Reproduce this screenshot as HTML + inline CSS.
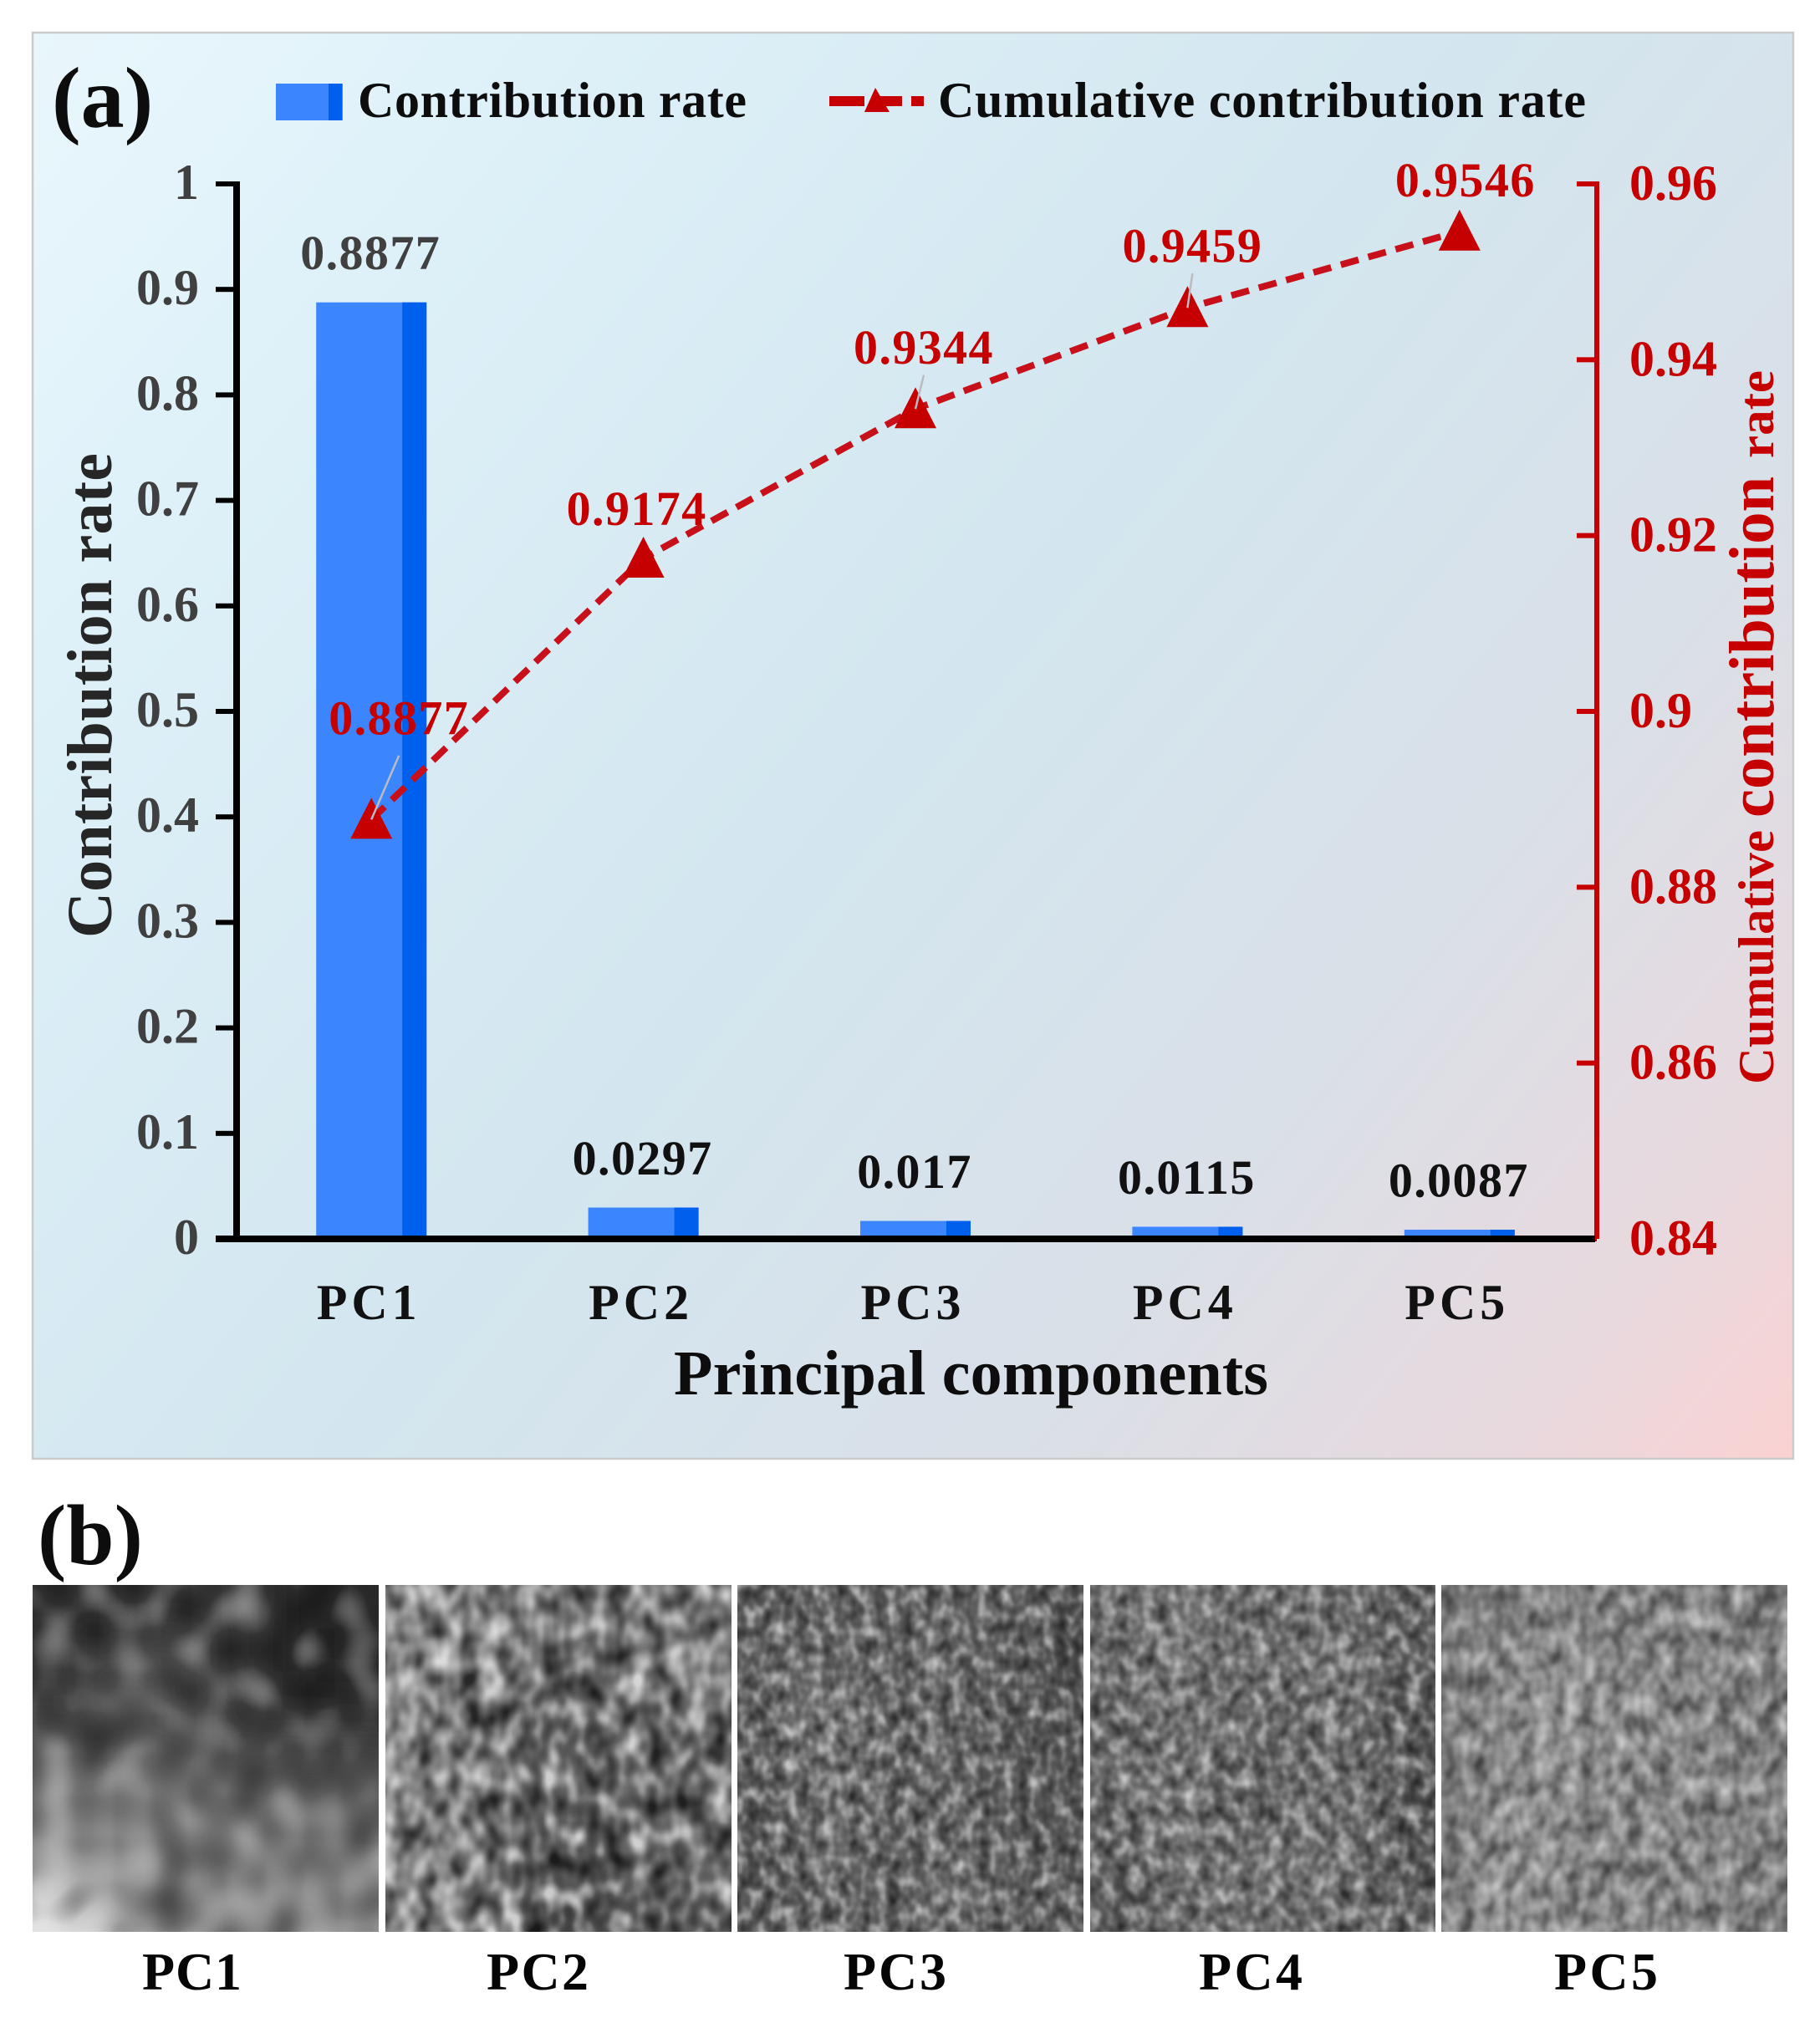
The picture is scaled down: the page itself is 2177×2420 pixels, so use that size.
<!DOCTYPE html>
<html lang="en">
<head>
<meta charset="utf-8">
<title>Principal component contribution rates</title>
<style>
html,body{margin:0;padding:0;background:#fff;}
svg{display:block;}
text{font-family:"Liberation Serif",serif;font-weight:bold;}
</style>
</head>
<body>
<svg id="fig" xmlns="http://www.w3.org/2000/svg" width="2177" height="2420" viewBox="0 0 2177 2420">
  <defs>
    <linearGradient id="panelGrad" gradientUnits="userSpaceOnUse" x1="39" y1="39" x2="2145" y2="1745">
      <stop offset="0" stop-color="#e9f7fc"/>
      <stop offset="0.2" stop-color="#ddf0f8"/>
      <stop offset="0.5" stop-color="#d3e6ef"/>
      <stop offset="0.72" stop-color="#d9e0e8"/>
      <stop offset="0.9" stop-color="#e8d9de"/>
      <stop offset="1" stop-color="#fbd2d2"/>
    </linearGradient>
    <filter id="tileBlur" x="-10%" y="-10%" width="120%" height="120%"><feGaussianBlur stdDeviation="22"/></filter>
    <filter id="noise1" x="0" y="0" width="100%" height="100%" color-interpolation-filters="sRGB">
      <feTurbulence type="fractalNoise" baseFrequency="0.022 0.02" numOctaves="1" seed="4"/>
      <feColorMatrix values="1.3 0 0 0 -0.15  1.3 0 0 0 -0.15  1.3 0 0 0 -0.15  0 0 0 0 1"/>
    </filter>
    <filter id="noise2" x="0" y="0" width="100%" height="100%" color-interpolation-filters="sRGB">
      <feTurbulence type="fractalNoise" baseFrequency="0.04 0.028" numOctaves="2" seed="11"/>
      <feColorMatrix values="1.6 0 0 0 -0.3  1.6 0 0 0 -0.3  1.6 0 0 0 -0.3  0 0 0 0 1"/>
    </filter>
    <filter id="noise3" x="0" y="0" width="100%" height="100%" color-interpolation-filters="sRGB">
      <feTurbulence type="fractalNoise" baseFrequency="0.065 0.05" numOctaves="2" seed="23"/>
      <feColorMatrix values="1.3 0 0 0 -0.15  1.3 0 0 0 -0.15  1.3 0 0 0 -0.15  0 0 0 0 1"/>
    </filter>
    <filter id="noise4" x="0" y="0" width="100%" height="100%" color-interpolation-filters="sRGB">
      <feTurbulence type="fractalNoise" baseFrequency="0.06 0.05" numOctaves="2" seed="37"/>
      <feColorMatrix values="1.3 0 0 0 -0.15  1.3 0 0 0 -0.15  1.3 0 0 0 -0.15  0 0 0 0 1"/>
    </filter>
    <filter id="noise5" x="0" y="0" width="100%" height="100%" color-interpolation-filters="sRGB">
      <feTurbulence type="fractalNoise" baseFrequency="0.055 0.04" numOctaves="2" seed="52"/>
      <feColorMatrix values="1.25 0 0 0 -0.125  1.25 0 0 0 -0.125  1.25 0 0 0 -0.125  0 0 0 0 1"/>
    </filter>
  </defs>

  <rect x="39" y="39" width="2106" height="1706" fill="url(#panelGrad)" stroke="#c9cacb" stroke-width="2.5"/>

  <text x="62" y="152" font-size="104" fill="#0d0d0d">(a)</text>

  <g>
    <g>
      <rect x="330" y="100" width="80" height="44" fill="#3b86ff"/>
      <rect x="393" y="100" width="16" height="44" fill="#0060ee"/>
    </g>
    <text x="428" y="140" font-size="60" fill="#0d0d0d" textLength="465" lengthAdjust="spacing">Contribution rate</text>
    <g fill="#c60000">
      <rect x="992" y="115" width="42" height="12"/>
      <rect x="1050" y="115" width="29" height="12"/>
      <rect x="1090" y="115" width="15" height="12"/>
      <polygon points="1047,105 1064,134 1034,134"/>
    </g>
    <text x="1122" y="140" font-size="60" fill="#0d0d0d" textLength="775" lengthAdjust="spacing">Cumulative contribution rate</text>
  </g>

  <g id="plot"></g>

  <text x="806" y="1668" font-size="76" fill="#0d0d0d" textLength="711" lengthAdjust="spacing">Principal components</text>
  <text transform="translate(133,1122) rotate(-90)" font-size="76" fill="#262626" textLength="580" lengthAdjust="spacing">Contribution rate</text>
  <g fill="#c60000">
    <text transform="translate(2121,1297) rotate(-90)" font-size="60" textLength="304" lengthAdjust="spacingAndGlyphs">Cumulative</text>
    <text transform="translate(2121,978) rotate(-90)" font-size="76" textLength="408" lengthAdjust="spacingAndGlyphs">contribution</text>
    <text transform="translate(2121,548) rotate(-90)" font-size="60" textLength="105" lengthAdjust="spacingAndGlyphs">rate</text>
  </g>

  <text x="45" y="1871" font-size="103" fill="#0d0d0d">(b)</text>
  <g id="tiles"></g>
</svg>

<script>
// ---- chart data ----
const categories = ["PC1", "PC2", "PC3", "PC4", "PC5"];
const contributionRates = [0.8877, 0.0297, 0.017, 0.0115, 0.0087];
const cumulativeRates = [0.8877, 0.9174, 0.9344, 0.9459, 0.9546];
const leftTicks = [0, 0.1, 0.2, 0.3, 0.4, 0.5, 0.6, 0.7, 0.8, 0.9, 1];
const rightTicks = [0.84, 0.86, 0.88, 0.9, 0.92, 0.94, 0.96];

// ---- approximate brightness of the PC image tiles (0-255, coarse rows) ----
const tileBrightnessPC1 = [
  [46,42,52,50,56,48,36,44],
  [54,58,70,68,52,50,34,40],
  [58,70,90,78,60,50,42,46],
  [76,72,84,76,66,60,56,54],
  [110,108,122,100,92,94,82,84],
  [124,118,128,108,112,104,108,104],
  [156,146,156,130,124,122,128,128],
  [225,190,130,118,128,134,136,142]
];
const tileBrightnessPC2 = [
  [128,132,118,112,108,116,122,112],
  [138,134,128,112,106,118,128,124],
  [130,136,124,104,96,106,116,114],
  [124,124,112,94,90,104,106,100],
  [128,126,112,98,94,106,104,98],
  [130,132,116,92,86,98,104,102],
  [136,138,118,90,84,96,106,106],
  [134,128,104,78,72,84,94,96]
];
const tileBrightnessPC3 = [
  [92,98,100,96,104,100,96,84],
  [100,106,108,98,112,106,94,80],
  [98,108,114,98,104,100,92,84],
  [100,116,124,100,106,104,88,88],
  [94,108,116,96,106,104,90,90],
  [92,104,114,94,106,102,92,92],
  [90,104,110,92,112,108,96,92],
  [92,100,108,92,112,108,100,96]
];
const tileBrightnessPC4 = [
  [108,116,118,112,108,116,108,92],
  [104,120,122,110,112,120,108,96],
  [102,112,116,106,112,124,112,96],
  [106,114,116,108,104,118,104,88],
  [108,118,114,102,100,116,102,84],
  [102,116,118,106,110,126,100,84],
  [98,110,114,110,114,118,104,94],
  [94,106,112,110,112,114,108,96]
];
const tileBrightnessPC5 = [
  [120,122,128,130,128,132,130,118],
  [128,132,142,138,134,132,136,130],
  [122,132,144,140,136,134,132,126],
  [124,138,150,142,140,142,128,124],
  [122,140,146,130,128,136,134,132],
  [128,142,144,134,136,136,130,130],
  [124,146,140,122,130,134,128,124],
  [132,152,142,136,136,136,132,130]
];
const tileTitles = ["PC1", "PC2", "PC3", "PC4", "PC5"];

// ---- axis functions ----
const plotLeft = 283, plotRight = 1910, plotTop = 220, plotBottom = 1482;
const bandWidth = (plotRight - plotLeft) / categories.length;
const xCenter = i => plotLeft + bandWidth * (i + 0.5) - 1.5;
const yLeft = v => plotBottom - (v / 1) * (plotBottom - plotTop);
const yRight = v => plotBottom - ((v - 0.84) / (0.96 - 0.84)) * (plotBottom - plotTop);

const NS = "http://www.w3.org/2000/svg";
function mk(tag, attrs, parent, txt) {
  const n = document.createElementNS(NS, tag);
  for (const k in attrs) n.setAttribute(k, attrs[k]);
  if (txt !== undefined) n.textContent = txt;
  parent.appendChild(n);
  return n;
}
const plot = document.getElementById("plot");
const RED = "#c60000";

// bars
categories.forEach((c, i) => {
  const top = yLeft(contributionRates[i]);
  const g = mk("g", {}, plot);
  
  
  mk("rect", {x: xCenter(i) - 66, y: top, width: 132, height: plotBottom - top, fill: "#3b86ff"}, g);
  mk("rect", {x: xCenter(i) + 37, y: top, width: 29, height: plotBottom - top, fill: "#0060ee"}, g);
  const lab = mk("text", {x: xCenter(i) - 1, y: top - 39.5, "text-anchor": "middle", "font-size": 58, "letter-spacing": 1.4, fill: i === 0 ? "#404040" : "#111111"}, plot, String(contributionRates[i]));
  
  
  const cat = mk("text", {x: xCenter(i) - 3, y: 1578, "text-anchor": "middle", "font-size": 60, fill: "#111111", "letter-spacing": 5}, plot, c);
  
  
});

// left axis
const leftAxis = mk("rect", {x: plotLeft - 4, y: plotTop - 3, width: 8, height: plotBottom - plotTop + 3, fill: "#000"}, plot);


leftTicks.forEach(v => {
  const t = mk("rect", {x: 258, y: yLeft(v) - 3, width: 25, height: 6, fill: "#000"}, plot);
  
  
  const l = mk("text", {x: 238, y: yLeft(v) + 18, "text-anchor": "end", "font-size": 60, fill: "#404040"}, plot, String(v));
  
  
});

// right axis
const rightAxis = mk("rect", {x: plotRight - 3, y: plotTop - 3, width: 6, height: plotBottom - plotTop + 3, fill: RED}, plot);


rightTicks.forEach(v => {
  const t = mk("rect", {x: 1886, y: yRight(v) - 3, width: 24, height: 6, fill: RED}, plot);
  
  
  const l = mk("text", {x: 1949, y: yRight(v) + 19, "font-size": 60, fill: RED}, plot, String(v));
  
  
});

// x axis
const xAxis = mk("rect", {x: 258, y: plotBottom - 4, width: 1650, height: 8, fill: "#000"}, plot);



// cumulative line
const linePts = cumulativeRates.map((v, i) => xCenter(i) + "," + yRight(v)).join(" ");
const line = mk("polyline", {points: linePts, fill: "none", stroke: "#c8101a", "stroke-width": 8, "stroke-dasharray": "22 12"}, plot);



// label placement relative to each point: [dx, dy]
const labelNudge = [[33, -102], [-8, -40], [10, -54], [6, -55], [7, -42]];
cumulativeRates.forEach((v, i) => {
  const cx = xCenter(i), cy = yRight(v);
  const m = mk("polygon", {points: [cx, cy - 26, cx + 25, cy + 23, cx - 25, cy + 23].join(","), fill: RED}, plot);
  
  
  if (i === 0 || i === 2 || i === 3) {
    const nudge = labelNudge[i];
    const leader = mk("line", {x1: cx, y1: cy, x2: cx + nudge[0], y2: cy + nudge[1] * 0.75, stroke: "#b9bcc0", "stroke-width": 2.5}, plot);
    
    
  }
  const l = mk("text", {x: cx + labelNudge[i][0], y: cy + labelNudge[i][1], "text-anchor": "middle", "font-size": 58, "letter-spacing": 1.4, fill: RED}, plot, String(v));
  
  
});

// PC image tiles
const tilesGroup = document.getElementById("tiles");
const tileData = [tileBrightnessPC1, tileBrightnessPC2, tileBrightnessPC3, tileBrightnessPC4, tileBrightnessPC5];
const tileBoxes = [[39, 414], [461, 414], [882, 414], [1304, 413], [1724, 414]];
const tileTop = 1896, tileH = 415;
const tileOpacity = [0.5, 0.7, 0.6, 0.6, 0.55];
const tileLabelBoxes = [[170, 119], [582, 122], [1009, 123], [1434, 124], [1859, 124]];
tileData.forEach((grid, t) => {
  const bx = tileBoxes[t][0], bw = tileBoxes[t][1];
  const clip = mk("clipPath", {id: "tileClip" + t}, tilesGroup);
  mk("rect", {x: bx, y: tileTop, width: bw, height: tileH}, clip);
  const g = mk("g", {"clip-path": "url(#tileClip" + t + ")"}, tilesGroup);
  
  
  g.style.isolation = "isolate";
  const blur = mk("g", {filter: "url(#tileBlur)"}, g);
  const rows = grid.length, cols = grid[0].length;
  const cw = bw / cols, ch = tileH / rows, pad = 80;
  grid.forEach((row, r) => row.forEach((val, c) => {
    const x0 = bx + c * cw - (c === 0 ? pad : 0);
    const y0 = tileTop + r * ch - (r === 0 ? pad : 0);
    const w = cw + (c === 0 ? pad : 0) + (c === cols - 1 ? pad : 0) + 1;
    const h = ch + (r === 0 ? pad : 0) + (r === rows - 1 ? pad : 0) + 1;
    mk("rect", {x: x0, y: y0, width: w, height: h, fill: "rgb(" + val + "," + val + "," + val + ")"}, blur);
  }));
  const n = mk("rect", {x: bx, y: tileTop, width: bw, height: tileH, filter: "url(#noise" + (t + 1) + ")"}, g);
  n.style.mixBlendMode = "hard-light";
  n.style.opacity = tileOpacity[t];
  const lab = mk("text", {x: tileLabelBoxes[t][0], y: 2380, "font-size": 64, fill: "#050505", textLength: tileLabelBoxes[t][1], lengthAdjust: "spacing"}, tilesGroup, tileTitles[t]);
  
  
});
</script>
</body>
</html>
